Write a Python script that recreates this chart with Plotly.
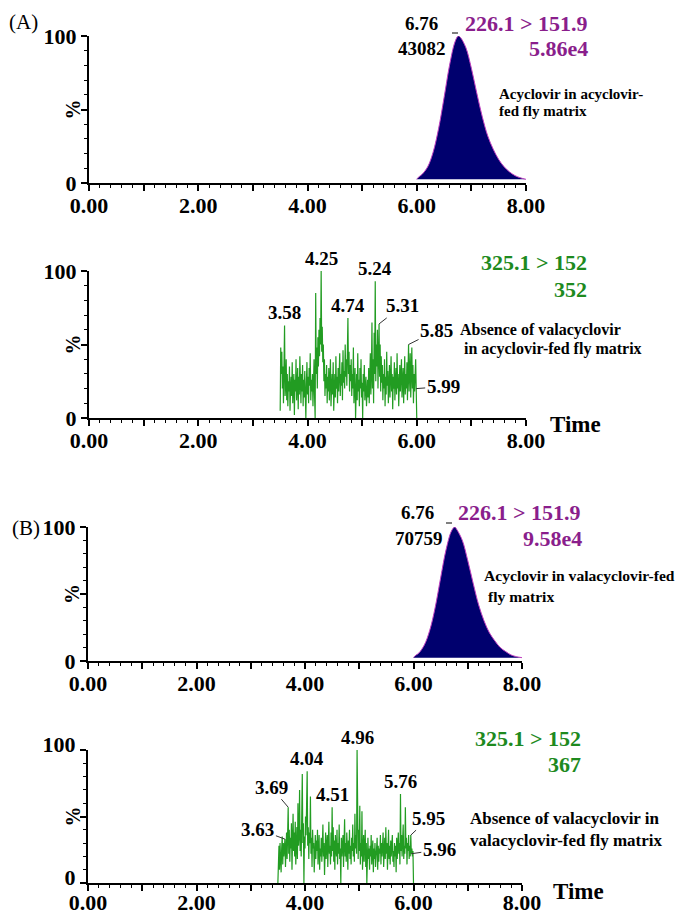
import plotly.graph_objects as go

W, H = 689, 915
OFF = 8  # default page body margin in the browser
FONT = "Liberation Serif"

# ---------------- data ----------------
peak_time = [6.00, 6.02, 6.05, 6.10, 6.20, 6.30, 6.40, 6.50, 6.60, 6.70, 6.76, 6.80,
             6.90, 7.00, 7.10, 7.20, 7.30, 7.40, 7.50, 7.60, 7.70, 7.80, 7.90, 8.00]
peak_A = [2.5, 3.5, 4.5, 6, 11, 21, 37, 58, 80, 96, 100, 99,
          92, 78, 61, 45, 32, 23, 16, 11, 7.5, 5, 3.5, 2.5]
peak_B = [2.5, 3.5, 4.5, 6, 12, 23, 40, 62, 83, 97, 100, 98,
          90, 75, 58, 42, 30, 21, 15, 10, 7, 4.5, 3.2, 2.5]
peak_base = 2.5

noise_start, noise_step = 3.50, 0.01
noise_A = [5, 48, 30, 45, 20, 35, 10, 28, 63, 15,
           22, 40, 12, 30, 8, 25, 18, 35, 5, 20,
           28, 15, 38, 10, 24, 30, 2, 26, 18, 40,
           12, 22, 34, 6, 28, 16, 42, 20, 10, 30,
           18, 36, 8, 26, 14, 32, 20, 0, 24, 38,
           16, 28, 10, 34, 22, 44, 12, 26, 18, 30,
           8, 24, 40, 14, 0, 85, 30, 48, 20, 55,
           35, 60, 42, 68, 50, 100, 45, 62, 38, 50,
           25, 40, 15, 30, 20, 36, 10, 28, 18, 34,
           12, 26, 40, 8, 22, 30, 16, 38, 5, 24,
           30, 14, 42, 20, 28, 10, 34, 18, 26, 44,
           15, 30, 22, 38, 12, 46, 24, 32, 20, 50,
           28, 40, 22, 52, 68, 30, 45, 18, 36, 25,
           40, 15, 30, 20, 48, 10, 26, 34, 0, 22,
           30, 12, 44, 18, 26, 8, 34, 20, 40, 14,
           24, 0, 30, 18, 36, 12, 22, 28, 8, 20,
           26, 14, 34, 10, 22, 44, 16, 30, 65, 20,
           40, 10, 58, 30, 93, 25, 50, 35, 60, 20,
           45, 64, 28, 50, 18, 42, 24, 36, 12, 30,
           20, 40, 8, 28, 16, 45, 22, 32, 10, 26,
           36, 14, 24, 42, 18, 30, 6, 28, 20, 38,
           12, 26, 34, 16, 44, 20, 30, 8, 24, 36,
           18, 28, 40, 14, 22, 34, 10, 26, 42, 16,
           30, 20, 38, 12, 26, 50, 18, 34, 44, 14,
           28, 48, 20, 36, 10, 30, 18, 26, 40, 20,
           0]
noise_B = [0, 22, 28, 10, 30, 18, 8, 26, 35, 14,
           30, 20, 24, 33, 12, 28, 38, 18, 30, 57,
           22, 40, 16, 34, 26, 45, 10, 30, 52, 24,
           38, 20, 46, 14, 30, 42, 18, 60, 28, 36,
           70, 24, 40, 20, 55, 82, 30, 45, 0, 35,
           26, 50, 36, 60, 84, 28, 42, 18, 38, 30,
           65, 22, 34, 12, 40, 26, 30, 8, 28, 36,
           18, 32, 24, 40, 14, 28, 36, 10, 26, 20,
           34, 16, 28, 44, 20, 30, 6, 24, 38, 18,
           26, 36, 12, 30, 46, 22, 28, 14, 38, 20,
           57, 24, 42, 16, 32, 10, 36, 26, 20, 40,
           14, 30, 22, 44, 18, 26, 0, 34, 20, 28,
           36, 12, 24, 48, 20, 30, 16, 38, 26, 10,
           32, 22, 40, 18, 28, 14, 34, 24, 44, 20,
           30, 16, 52, 26, 36, 22, 100, 30, 18, 40,
           24, 58, 14, 30, 20, 54, 10, 28, 36, 16,
           26, 40, 12, 30, 0, 22, 34, 18, 26, 10,
           28, 20, 36, 14, 24, 32, 8, 26, 18, 30,
           12, 24, 20, 34, 10, 28, 16, 26, 22, 36,
           14, 30, 20, 26, 38, 12, 24, 34, 18, 42,
           22, 30, 10, 26, 40, 18, 28, 14, 32, 20,
           26, 36, 16, 24, 12, 30, 20, 28, 8, 34,
           18, 26, 38, 22, 30, 14, 67, 24, 36, 20,
           30, 44, 18, 28, 22, 57, 26, 34, 14, 30,
           24, 36, 18, 28, 20, 36, 22, 26, 20, 24,
           0]
noise_time = [round(noise_start + i * noise_step, 2) for i in range(len(noise_A))]

x_tick_vals = [0, 1, 2, 3, 4, 5, 6, 7, 8]
x_tick_text = ["0.00", "", "2.00", "", "4.00", "", "6.00", "", "8.00"]
y_tick_vals = [0, 50, 100]
y_tick_text = ["0", "", "100"]

# labelled peaks: (time, intensity, label)
labels_A2 = [(4.25, 100, "4.25"), (3.58, 63, "3.58"), (4.74, 68, "4.74"), (5.24, 93, "5.24")]
# with leader lines: (time, intensity, label, dx px, dy px)
leaders_A2 = [(5.31, 64, "5.31", 23, -18), (5.85, 50, "5.85", 28, -14), (5.99, 20, "5.99", 27, -2)]
labels_B2 = [(4.96, 100, "4.96"), (4.04, 84, "4.04"), (4.51, 57, "4.51"), (5.76, 67, "5.76")]
leaders_B2 = [(3.69, 57, "3.69", -17, -20), (3.63, 33, "3.63", -27, -10),
              (5.95, 36, "5.95", 18, -17), (5.96, 22, "5.96", 28, -4)]

# ---------------- figure ----------------
NAVY = "#00006e"
MAG = "#c040c0"
PURPLE = "#8a1e8c"
GREEN_T = "#1e8a1e"
GREEN_L = "#229c22"


def px(x):
    return (x - OFF) / W


def py(y):
    return 1 - (y - OFF) / H


panels = [  # (x0px, x1px, ytop, ybottom, x-label standoff, y-label shift) in window pixels
    (89, 526, 36, 183, -4, 0),
    (89, 526, 271, 418, -4, 0),
    (88, 522, 527, 661, -4, 0),
    (88, 522, 750, 883, -7, -6),
]

fig = go.Figure()

for i, vals in [(1, peak_A), (3, peak_B)]:
    xa = "x" if i == 1 else f"x{i}"
    ya = "y" if i == 1 else f"y{i}"
    fig.add_trace(go.Scatter(x=peak_time, y=[peak_base] * len(peak_time), mode="lines",
                             line=dict(width=0, color=NAVY), xaxis=xa, yaxis=ya,
                             showlegend=False, hoverinfo="skip"))
    fig.add_trace(go.Scatter(x=peak_time, y=vals, mode="lines", fill="tonexty",
                             fillcolor=NAVY, line=dict(width=1, color=MAG, shape="spline"),
                             xaxis=xa, yaxis=ya, showlegend=False))

for i, vals in [(2, noise_A), (4, noise_B)]:
    fig.add_trace(go.Scatter(x=noise_time, y=vals, mode="lines",
                             line=dict(width=1.2, color=GREEN_L),
                             xaxis=f"x{i}", yaxis=f"y{i}", showlegend=False))

layout = dict(width=W, height=H, template="none",
              margin=dict(l=0, r=0, t=0, b=0, pad=0, autoexpand=False),
              plot_bgcolor="white", paper_bgcolor="white", showlegend=False,
              font=dict(family=FONT, color="black"))

for i, (x0, x1, yt, yb, stand, yshift) in enumerate(panels, start=1):
    sx = "" if i == 1 else str(i)
    layout[f"xaxis{sx}"] = dict(
        domain=[px(x0), px(x1)], range=[0, 8], anchor=f"y{sx}", automargin=False,
        tickmode="array", tickvals=x_tick_vals, ticktext=x_tick_text,
        ticks="outside", ticklen=6, tickwidth=1.5, tickcolor="black",
        minor=dict(dtick=0.2, tick0=0, ticks="outside", ticklen=3, tickwidth=1, tickcolor="black"),
        showline=True, linewidth=2, linecolor="black", showgrid=False, zeroline=False,
        tickfont=dict(family=FONT, size=22, color="black", weight="bold"),
        ticklabelstandoff=stand, fixedrange=True)
    layout[f"yaxis{sx}"] = dict(
        domain=[py(yb), py(yt)], range=[0, 100], anchor=f"x{sx}", automargin=False,
        tickmode="array", tickvals=y_tick_vals, ticktext=y_tick_text,
        ticks="outside", ticklen=6, tickwidth=1.5, tickcolor="black",
        minor=dict(dtick=10, tick0=0, ticks="outside", ticklen=3, tickwidth=1, tickcolor="black"),
        showline=True, linewidth=2, linecolor="black", showgrid=False, zeroline=False,
        tickfont=dict(family=FONT, size=22, color="black", weight="bold"),
        ticklabelstandoff=0, ticklabelshift=yshift, fixedrange=True)

ann = []


def txt(x, y, s, size, color="black", xanchor="center", bold=True, yanchor="middle"):
    ann.append(dict(x=px(x), y=py(y), xref="paper", yref="paper", text=(f"<b>{s}</b>" if bold else s),
                    showarrow=False, xanchor=xanchor, yanchor=yanchor,
                    font=dict(family=FONT, size=size, color=color)))


for i, (x0, x1, yt, yb, _, _) in enumerate(panels, start=1):
    ann.append(dict(x=px(x0 - 16), y=py((yt + yb) / 2), xref="paper", yref="paper", text="<b>%</b>",
                    textangle=-90, showarrow=False, xanchor="center", yanchor="middle",
                    font=dict(family=FONT, size=20, color="black")))

# panel A
txt(23, 22, "(A)", 21, bold=False)
txt(440, 23, "6.76", 19, xanchor="right")
txt(448, 48, "43082", 19, xanchor="right")
txt(526, 23, "226.1 &gt; 151.9", 22, PURPLE)
txt(558, 48, "5.86e4", 22, PURPLE)
txt(497, 94, "Acyclovir in acyclovir-", 15, xanchor="left")
txt(497, 111, "fed fly matrix", 15, xanchor="left")

# panel A2
txt(534, 263, "325.1 &gt; 152", 22, GREEN_T)
txt(589, 289, "352", 22, GREEN_T, xanchor="right")
txt(458, 330, "Absence of valacyclovir", 16, xanchor="left")
txt(462, 349, "in acyclovir-fed fly matrix", 16, xanchor="left")
txt(575, 424, "Time", 23)

# panel B
txt(26, 528, "(B)", 21, bold=False)
txt(436, 512, "6.76", 19, xanchor="right")
txt(445, 538, "70759", 19, xanchor="right")
txt(519, 512, "226.1 &gt; 151.9", 22, PURPLE)
txt(552, 538, "9.58e4", 22, PURPLE)
txt(482, 575, "Acyclovir in valacyclovir-fed", 15.6, xanchor="left")
txt(486, 596, "fly matrix", 15.6, xanchor="left")

# panel B2
txt(528, 738, "325.1 &gt; 152", 22, GREEN_T)
txt(583, 764, "367", 22, GREEN_T, xanchor="right")
txt(468, 818, "Absence of valacyclovir in", 17, xanchor="left")
txt(468, 840, "valacyclovir-fed fly matrix", 17, xanchor="left")
txt(578, 891, "Time", 23)

for sx, labs, leads in [("2", labels_A2, leaders_A2), ("4", labels_B2, leaders_B2)]:
    for t, v, s in labs:
        ann.append(dict(x=t, y=v, xref=f"x{sx}", yref=f"y{sx}", text=f"<b>{s}</b>", showarrow=False,
                        xanchor="center", yanchor="bottom", yshift=0,
                        font=dict(family=FONT, size=19, color="black")))
    for t, v, s, ax, ay in leads:
        ann.append(dict(x=t, y=v, xref=f"x{sx}", yref=f"y{sx}", text=f"<b>{s}</b>", showarrow=True,
                        arrowhead=0, arrowwidth=1, arrowcolor="#333333", ax=ax, ay=ay, standoff=0,
                        font=dict(family=FONT, size=19, color="black")))

# small apex markers next to the main peaks
shapes = []
for (x0, y0) in [(452, 33), (446, 523)]:
    shapes.append(dict(type="line", xref="paper", yref="paper", x0=px(x0), x1=px(x0 + 6),
                       y0=py(y0), y1=py(y0), line=dict(color="black", width=1)))

layout["annotations"] = ann
layout["shapes"] = shapes
fig.update_layout(**layout)
fig.write_html("out.html")
